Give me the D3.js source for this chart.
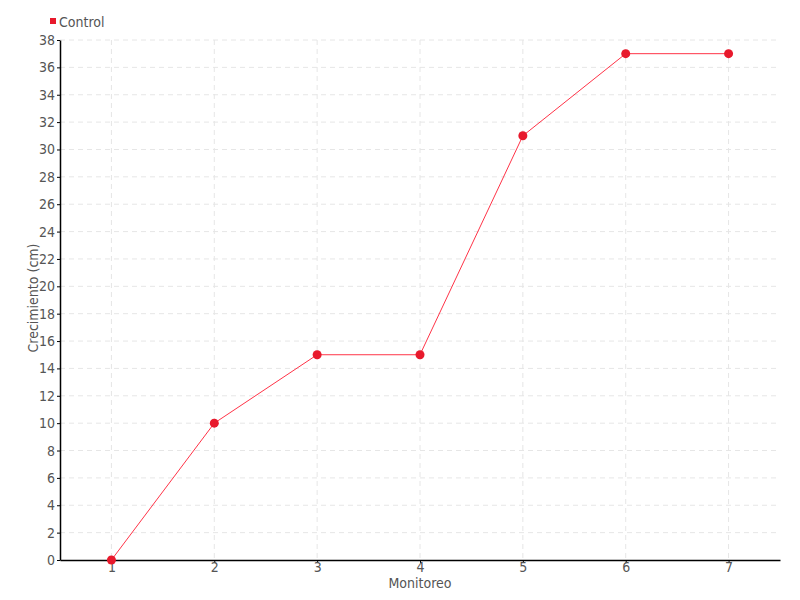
<!DOCTYPE html>
<html>
<head>
<meta charset="utf-8">
<script src="https://cdn.jsdelivr.net/npm/d3@7"></script>
<style>
  body { margin: 0; background: #fff; }
  svg text { font-family: "DejaVu Sans Condensed", "Liberation Sans Narrow", sans-serif; fill: #555; }
  .grid line { stroke: #e6e6e6; stroke-dasharray: 5,4; }
  .axis path, .axis line { stroke: #000; }
</style>
</head>
<body>
<svg id="chart" width="800" height="600"></svg>
<script>
var monitoreo = [1, 2, 3, 4, 5, 6, 7];
var control = [0, 10, 15, 15, 31, 37, 37];
var yTicks = d3.range(0, 39, 2);
var seriesName = "Control";
var seriesColor = "#e8192c";

var svg = d3.select("#chart");
var mLeft = 60, mRight = 780, mTop = 40, mBottom = 560;

var x = d3.scaleLinear().domain([0.5, 7.5]).range([mLeft, mRight]);
var y = d3.scaleLinear().domain([0, 38]).range([mBottom, mTop]);

// grid
svg.append("g").attr("class", "grid")
  .selectAll("line").data(yTicks.slice(1)).enter().append("line")
  .attr("x1", mLeft).attr("x2", mRight)
  .attr("y1", d => y(d)).attr("y2", d => y(d));

svg.append("g").attr("class", "grid")
  .selectAll("line").data(monitoreo).enter().append("line")
  .attr("x1", d => x(d)).attr("x2", d => x(d))
  .attr("y1", mTop).attr("y2", mBottom);

// axes
var yAxis = svg.append("g").attr("class", "axis")
  .attr("transform", "translate(" + mLeft + ",0)")
  .call(d3.axisLeft(y).tickValues(yTicks).tickSize(3).tickSizeOuter(0));

var xAxis = svg.append("g").attr("class", "axis")
  .attr("transform", "translate(0," + mBottom + ")")
  .call(d3.axisBottom(x).tickValues(monitoreo).tickFormat(d3.format("d")).tickSize(3).tickSizeOuter(0));

yAxis.selectAll("text").style("font-size", "14px").attr("x", -5);
xAxis.selectAll("text").style("font-size", "14px").attr("y", 2);
svg.selectAll(".axis .domain").attr("stroke-width", 1.5);

// axis labels
svg.append("text")
  .attr("x", (mLeft + mRight) / 2)
  .attr("y", 588)
  .style("text-anchor", "middle")
  .style("font-size", "14px")
  .text("Monitoreo");

svg.append("text")
  .attr("transform", "rotate(-90)")
  .attr("x", -(mTop + mBottom) / 2 + 2)
  .attr("y", 38)
  .style("text-anchor", "middle")
  .style("font-size", "14px")
  .text("Crecimiento (cm)");

// line
var line = d3.line().x((d, i) => x(monitoreo[i])).y(d => y(d));

svg.append("path")
  .datum(control)
  .attr("fill", "none")
  .attr("stroke", "#ff3347")
  .attr("stroke-width", 1)
  .attr("d", line);

svg.selectAll("circle")
  .data(control)
  .enter().append("circle")
  .attr("cx", (d, i) => x(monitoreo[i]))
  .attr("cy", d => y(d))
  .attr("r", 4.5)
  .attr("fill", seriesColor);

// legend
svg.append("rect")
  .attr("x", 50).attr("y", 18)
  .attr("width", 6).attr("height", 6)
  .attr("fill", seriesColor);

svg.append("text")
  .attr("x", 59).attr("y", 27)
  .style("font-size", "14px")
  .text(seriesName);
</script>
</body>
</html>
